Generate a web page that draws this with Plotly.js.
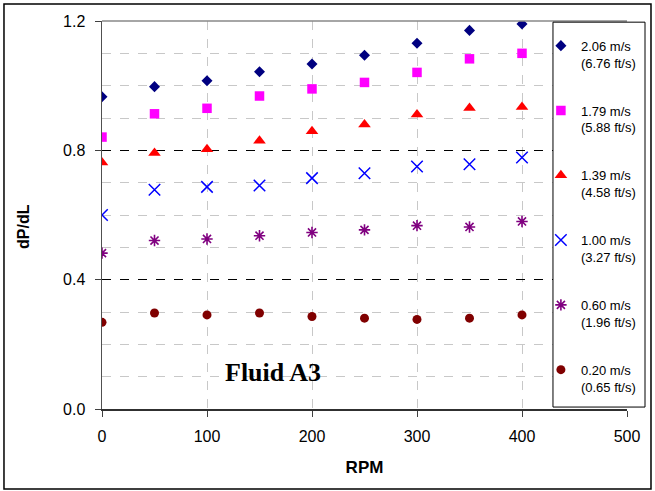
<!DOCTYPE html>
<html>
<head>
<meta charset="utf-8">
<script src="https://cdn.plot.ly/plotly-3.0.1.min.js"></script>
<style>html,body{margin:0;padding:0;background:#fff;}#chart{width:655px;height:491px;}</style>
</head>
<body>
<div id="chart"></div>
<script>
// Data
const rpm = [0, 50, 100, 150, 200, 250, 300, 350, 400];
const v206 = [0.966, 0.997, 1.015, 1.043, 1.067, 1.094, 1.131, 1.171, 1.191];
const v179 = [0.841, 0.913, 0.930, 0.968, 0.990, 1.010, 1.041, 1.083, 1.100];
const v139 = [0.762, 0.792, 0.803, 0.830, 0.859, 0.880, 0.911, 0.931, 0.934];
const v100 = [0.600, 0.678, 0.687, 0.691, 0.714, 0.729, 0.750, 0.757, 0.778];
const v060 = [0.482, 0.521, 0.526, 0.536, 0.546, 0.554, 0.567, 0.563, 0.580];
const v020 = [0.268, 0.297, 0.291, 0.297, 0.286, 0.281, 0.277, 0.281, 0.291];
const seriesNames = [
  "2.06 m/s<br>(6.76 ft/s)",
  "1.79 m/s<br>(5.88 ft/s)",
  "1.39 m/s<br>(4.58 ft/s)",
  "1.00 m/s<br>(3.27 ft/s)",
  "0.60 m/s<br>(1.96 ft/s)",
  "0.20 m/s<br>(0.65 ft/s)"
];
const xTicks = [0, 100, 200, 300, 400, 500];
const yTicks = [0.0, 0.4, 0.8, 1.2];
const yTickText = ["0.0", "0.4", "0.8", "1.2"];

const seriesValues = [v206, v179, v139, v100, v060, v020];
const markers = [
  {symbol: "diamond", color: "#000080", size: 8.5},
  {symbol: "square", color: "#FF00FF", size: 9.5},
  {symbol: "triangle-up", color: "#FF0000", size: 11},
  {symbol: "x-thin-open", color: "#0000FF", size: 11.5, line: {color: "#0000FF", width: 1.5}},
  {symbol: "asterisk-open", color: "#800080", size: 9.5, line: {color: "#800080", width: 1.6}},
  {symbol: "circle", color: "#800000", size: 9}
];

const traces = seriesValues.map((vals, i) => ({
  type: "scatter",
  mode: "markers",
  x: rpm,
  y: vals,
  name: seriesNames[i],
  legendgroup: "g" + i,
  marker: Object.assign({line: {width: 0}}, markers[i]),
  hoverinfo: "x+y"
}));

// invisible trace for the black dashed major gridlines on a twin axis
traces.push({
  type: "scatter", mode: "markers", x: [rpm[0]], y: [v206[0]],
  yaxis: "y2", showlegend: false, hoverinfo: "skip",
  marker: {opacity: 0}
});

const font = "Liberation Sans, Arial, sans-serif";

const layout = {
  width: 655,
  height: 491,
  margin: {l: 102, r: 28, t: 21, b: 82, autoexpand: false},
  paper_bgcolor: "#ffffff",
  plot_bgcolor: "#ffffff",
  font: {family: font, color: "#000000", size: 16},
  showlegend: true,
  xaxis: {
    range: [0, 500],
    tickmode: "array",
    tickvals: xTicks,
    ticks: "outside",
    ticklen: 6,
    tickcolor: "#404040",
    tickwidth: 1,
    showline: true,
    linecolor: "#303030",
    linewidth: 1.5,
    showgrid: true,
    gridcolor: "#c8c8c8",
    griddash: "dash",
    gridwidth: 1,
    zeroline: false,
    tickfont: {family: font, size: 16, color: "#000"},
    ticklabelstandoff: 6,
    automargin: false,
    title: {text: "<b>RPM</b>", font: {family: font, size: 17, color: "#000"}, standoff: 17}
  },
  yaxis: {
    range: [0, 1.2],
    tickmode: "array",
    tickvals: yTicks,
    ticktext: yTickText,
    ticks: "outside",
    ticklen: 6,
    tickcolor: "#404040",
    tickwidth: 1,
    showline: true,
    linecolor: "#505050",
    linewidth: 1.5,
    showgrid: false,
    zeroline: false,
    minor: {dtick: 0.1, tick0: 0, showgrid: true, gridcolor: "#c8c8c8", griddash: "dash", gridwidth: 1, ticks: ""},
    tickfont: {family: font, size: 16, color: "#000"},
    ticklabelstandoff: 6,
    automargin: false
  },
  yaxis2: {
    overlaying: "y",
    range: [0, 1.2],
    tickmode: "array",
    tickvals: [0.4, 0.8],
    showticklabels: false,
    ticks: "",
    showline: false,
    zeroline: false,
    showgrid: true,
    gridcolor: "#000000",
    griddash: "dash",
    gridwidth: 1
  },
  legend: {
    x: 0.836,
    xanchor: "left",
    y: 0.975,
    yanchor: "top",
    bgcolor: "rgba(0,0,0,0)",
    borderwidth: 0,
    traceorder: "grouped",
    tracegroupgap: 28,
    valign: "top",
    font: {family: font, size: 13, color: "#000"}
  },
  annotations: [
    {
      xref: "paper", yref: "paper",
      x: 0.326, y: 0.093, xanchor: "center", yanchor: "middle",
      text: "<b>Fluid A3</b>",
      showarrow: false,
      font: {family: "Liberation Serif, Times New Roman, serif", size: 26, color: "#000"}
    },
    {
      xref: "paper", yref: "paper",
      x: -0.1505, y: 0.4716, xanchor: "center", yanchor: "middle",
      textangle: -90,
      text: "<b>dP/dL</b>",
      showarrow: false,
      font: {family: font, size: 16, color: "#000"}
    }
  ],
  shapes: [
    // plot area top border
    {type: "line", xref: "paper", yref: "paper", x0: 0, x1: 1, y0: 1, y1: 1,
     line: {color: "#888888", width: 1.5}, layer: "above"},
    // legend box
    {type: "rect", xref: "paper", yref: "paper", x0: 0.859, x1: 1.0343, y0: 0.005, y1: 0.997,
     fillcolor: "#ffffff", line: {color: "#000000", width: 1}, layer: "above"},
    // outer chart frame
    {type: "rect", xref: "paper", yref: "paper", x0: -0.1867, x1: 1.0457, y0: -0.206, y1: 1.0438,
     line: {color: "#000000", width: 1.5}, layer: "above"}
  ]
};

Plotly.newPlot("chart", traces, layout, {displayModeBar: false, staticPlot: true});
</script>
</body>
</html>
